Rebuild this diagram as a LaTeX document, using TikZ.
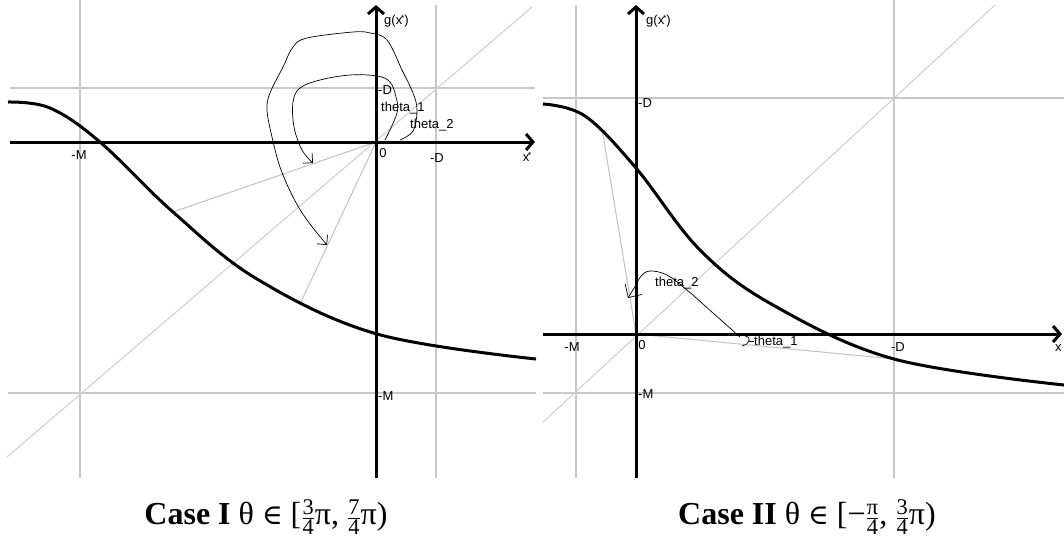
\documentclass[tikz,border=0pt]{standalone}
\usepackage{amsmath}
\usepackage{fontspec}
\setmainfont{Liberation Serif}
\newfontfamily\labfont{Liberation Sans}
\newfontfamily\symfont{DejaVu Serif}
\usetikzlibrary{arrows.meta}
\definecolor{gridgray}{RGB}{200,200,200}
\definecolor{diaggray}{RGB}{205,205,205}
\definecolor{raygray}{RGB}{192,192,192}
\newcommand{\xst}{x\kern-1.5pt\raisebox{3pt}{\fontsize{9}{9}\selectfont*}}
\newcommand{\elem}{{\symfont\fontsize{28}{30}\selectfont ∈}}
\newcommand{\fr}[2]{$\frac{\text{#1}}{\text{#2}}$}
\begin{document}
\begin{tikzpicture}[x=1pt,y=-1pt,
  grid/.style={draw=gridgray, line width=1.4pt},
  diag/.style={draw=diaggray, line width=1pt},
  ray/.style={draw=raygray, line width=1pt},
  axis/.style={line width=3pt, -{Straight Barb[length=7pt,width=16pt]}},
  gcurve/.style={line width=3pt, line join=round},
  hand/.style={line width=0.7pt, -{Straight Barb[length=7pt,width=14pt]}},
  lab/.style={font=\labfont\fontsize{13}{15}\selectfont, inner sep=0pt},
  captext/.style={font=\fontsize{32}{36}\selectfont, inner sep=0pt}]
\useasboundingbox (0,0) rectangle (1064,542);

% ---------------- Case I ----------------
\coordinate (O1) at (376,142);
% grid
\draw[grid] (10,88) -- (535,88);
\draw[grid] (8,393) -- (536,393);
\draw[grid] (80,0) -- (80,478);
\draw[grid] (436,5) -- (436,478);
% diagonal and rays
\draw[diag] (7,457) -- (532,7);
\coordinate (A1) at (173,212);
\coordinate (B1) at (300,304);
\draw[ray] (O1) -- (A1);
\draw[ray] (O1) -- (B1);
% axes
\draw[axis] (10,142) -- (535,142);
\draw[axis] (376,478) -- (376,5);
% curve
\draw[gcurve] plot[smooth, tension=0.6] coordinates {(8,102) (50,108) (100,142) (173,212) (257,279) (377,334) (536,359)};
% hand-drawn arrows
\draw[hand] plot[smooth, tension=0.6] coordinates {(385,140) (397,113) (396,97) (390,82) (377,76) (350,75) (320,80) (300,88) (293,102) (294,127) (302,150) (313,163)};
\draw[hand] plot[smooth, tension=0.6] coordinates {(400,140) (413,131) (417,110) (413,93) (402,70) (387,40) (370,33) (353,32) (307,38) (293,47) (283,67) (270,93) (267,110) (272,137) (280,167) (293,197) (307,220) (327,245)};
% labels
\node[lab, anchor=west] (gL) at (384,21) {g(\xst)};
\node[lab, anchor=west] (Dy1) at (378,90) {-D};
\node[lab, anchor=west] (t1L) at (381,108) {theta\_1};
\node[lab, anchor=west] (t2L) at (410,125) {theta\_2};
\node[lab] (zL) at (383,153) {0};
\node[lab] (Dx1) at (437,158) {-D};
\node[lab] (xL) at (527,157) {\xst};
\node[lab] (Mx1) at (79,155) {-M};
\node[lab, anchor=west] (My1) at (378,396) {-M};
\node[captext] (capL) at (266,517) {\textbf{Case I} θ \elem{} [\fr{3}{4}π, \fr{7}{4}π)};

% ---------------- Case II ----------------
\coordinate (O2) at (636,334);
\draw[grid] (543,98) -- (1064,98);
\draw[grid] (543,393) -- (1064,393);
\draw[grid] (576,5) -- (576,478);
\draw[grid] (894,0) -- (894,478);
\draw[diag] (543,422) -- (995,5);
\coordinate (A2) at (602,129);
\coordinate (B2) at (894,359);
\draw[ray] (O2) -- (A2);
\draw[ray] (O2) -- (B2);
\draw[axis] (543,334) -- (1062,334);
\draw[axis] (636,478) -- (636,5);
\draw[gcurve] plot[smooth, tension=0.6] coordinates {(543,104) (585,116) (636,168) (700,250) (773,305) (894,359) (1064,385)};
\draw[line width=0.7pt, -{Straight Barb[length=10pt,width=20pt]}] plot[smooth, tension=0.6] coordinates {(740,337) (713,313) (687,290) (667,275) (650,271) (641,276) (636,285) (628,298)};
\draw[line width=0.7pt] (742,346) .. controls (750,344) and (752,337) .. (745,336);
\draw[line width=0.7pt] (748,341) -- (754,341);
\node[lab, anchor=west] (gR) at (646,21) {g(\xst)};
\node[lab, anchor=west] (Dy2) at (638,103) {-D};
\node[lab, anchor=west] (t2R) at (655,283) {theta\_2};
\node[lab, anchor=west] (t1R) at (754,342) {theta\_1};
\node[lab] (zR) at (642,345) {0};
\node[lab] (Mx2) at (572,347) {-M};
\node[lab] (Dx2) at (898,347) {-D};
\node[lab, anchor=west] (xR) at (1055,348) {x};
\node[lab, anchor=west] (My2) at (638,394) {-M};
\node[captext] (capR) at (807,517) {\textbf{Case II} θ \elem{} [−\fr{π}{4}, \fr{3}{4}π)};
\end{tikzpicture}
\end{document}
